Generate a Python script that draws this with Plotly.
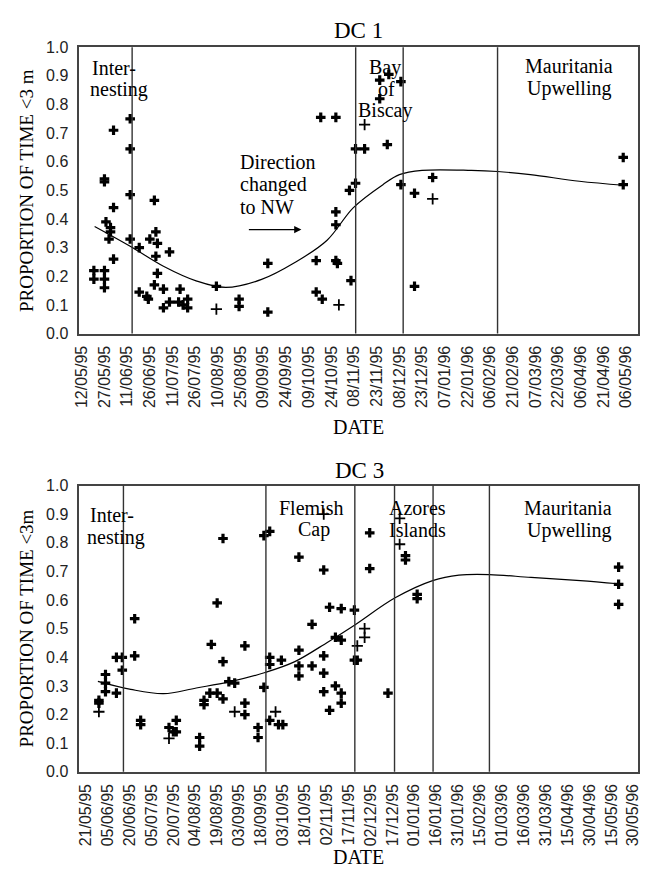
import pandas as pd
import plotly.graph_objects as go

W, H = 648, 875

# ---------------- DATA ----------------
# DC 1: days since 12/05/95
dc1_start = "1995-05-12"
dc1_ticklabels = ["12/05/95", "27/05/95", "11/06/95", "26/06/95", "11/07/95", "26/07/95",
                  "10/08/95", "25/08/95", "09/09/95", "24/09/95", "09/10/95", "24/10/95",
                  "08/11/95", "23/11/95", "08/12/95", "23/12/95", "07/01/96", "22/01/96",
                  "06/02/96", "21/02/96", "07/03/96", "22/03/96", "06/04/96", "21/04/96",
                  "06/05/96"]
dc1_bold_day = [8, 8, 15, 15, 15, 15, 15, 16, 19, 19, 18, 21, 21, 21, 32, 32, 32, 32,
                38, 38, 43, 44, 45, 48, 49, 50, 49, 50, 48, 54, 54, 58, 58, 65, 64, 70, 70, 67,
                89, 104, 104, 123, 123, 158, 168, 155, 155, 159, 168, 169, 168, 168,
                178, 177, 181, 181, 187, 197, 197, 203, 211, 202, 211, 220, 220, 232, 358, 358]
dc1_bold_val = [0.22, 0.19, 0.22, 0.19, 0.16, 0.54, 0.53, 0.39, 0.37, 0.355, 0.33, 0.44, 0.26, 0.71,
                0.75, 0.645, 0.485, 0.33, 0.30, 0.145, 0.13, 0.12, 0.33, 0.465, 0.355, 0.315, 0.27,
                0.21, 0.17, 0.155, 0.09, 0.285, 0.11, 0.155, 0.11, 0.12, 0.09, 0.10,
                0.165, 0.12, 0.095, 0.245, 0.075, 0.755, 0.755, 0.255, 0.145, 0.12, 0.255, 0.245,
                0.425, 0.38, 0.185, 0.50, 0.525, 0.645, 0.645, 0.82, 0.885, 0.905, 0.88, 0.66,
                0.52, 0.49, 0.165, 0.545, 0.615, 0.52]
dc1_thin_day = [89, 170, 187, 232]
dc1_thin_val = [0.085, 0.10, 0.73, 0.47]
dc1_curve_day = [8.5, 32.3, 54, 75.6, 95.2, 118.9, 140.6, 162.2, 179.6, 199.1, 210, 225,
                 257.6, 274.9, 296.6, 329, 358.3]
dc1_curve_val = [0.374, 0.304, 0.235, 0.184, 0.161, 0.189, 0.247, 0.326, 0.44, 0.52, 0.555,
                 0.57, 0.57, 0.566, 0.555, 0.532, 0.518]
dc1_bounds_day = [33.3, 181.1, 212.5, 274.9]

# DC 3: days since 21/05/95
dc3_start = "1995-05-21"
dc3_ticklabels = ["21/05/95", "05/06/95", "20/06/95", "05/07/95", "20/07/95", "04/08/95",
                  "19/08/95", "03/09/95", "18/09/95", "03/10/95", "18/10/95", "02/11/95",
                  "17/11/95", "02/12/95", "17/12/95", "01/01/96", "16/01/96", "31/01/96",
                  "15/02/96", "01/03/96", "16/03/96", "31/03/96", "15/04/96", "30/04/96",
                  "15/05/96", "30/05/96"]
dc3_bold_day = [9, 9, 13.5, 13.5, 13.5, 21, 25, 25, 21, 33.5, 33.5, 37.6, 37.6, 57, 60, 62, 62,
                78, 78, 81, 81, 86, 85, 90, 90, 94, 94, 94, 98, 102, 109, 109, 109, 118, 118,
                122, 126, 122, 126, 126, 126, 132, 135, 134, 146, 146, 146, 146, 155, 155,
                163, 163, 163, 163, 167, 167, 171, 171, 175, 175, 175, 175, 184, 184, 186,
                194.5, 194.5, 207, 219, 219, 227, 227, 365, 365, 365]
dc3_bold_val = [0.25, 0.24, 0.34, 0.31, 0.28, 0.40, 0.40, 0.355, 0.275, 0.535, 0.405, 0.18, 0.165,
                0.155, 0.14, 0.18, 0.14, 0.12, 0.09, 0.25, 0.235, 0.445, 0.275, 0.59, 0.275,
                0.815, 0.385, 0.255, 0.315, 0.31, 0.44, 0.24, 0.20, 0.155, 0.12,
                0.825, 0.84, 0.295, 0.40, 0.375, 0.18, 0.165, 0.165, 0.39, 0.75, 0.425, 0.37,
                0.335, 0.515, 0.37, 0.705, 0.405, 0.345, 0.28, 0.575, 0.215, 0.30, 0.47, 0.57,
                0.46, 0.275, 0.24, 0.565, 0.39, 0.39, 0.835, 0.71, 0.275, 0.755, 0.74, 0.62,
                0.605, 0.715, 0.655, 0.585]
dc3_thin_day = [9, 57, 102, 130, 163, 186, 191, 191, 215, 215]
dc3_thin_val = [0.21, 0.117, 0.21, 0.21, 0.90, 0.44, 0.50, 0.47, 0.885, 0.795]
dc3_curve_day = [8.3, 30.8, 53.3, 75.7, 98.3, 123.4, 143.2, 165.7, 184.3, 211.6, 237.6,
                 255.6, 276.5, 305, 338.8, 364.7]
dc3_curve_val = [0.316, 0.288, 0.273, 0.293, 0.314, 0.348, 0.385, 0.453, 0.513, 0.607, 0.668,
                 0.687, 0.689, 0.679, 0.668, 0.657]
dc3_bounds_day = [25.8, 123.4, 184.3, 211.5, 237.9, 276.5]

y_ticks = [0.0, 0.1, 0.2, 0.3, 0.4, 0.5, 0.6, 0.7, 0.8, 0.9, 1.0]


def to_dates(start, days):
    return pd.Timestamp(start) + pd.to_timedelta(pd.Series(days, dtype=float), unit="D")


def px(x):
    return x / W


def py(y):
    return 1 - y / H


SERIF = "Liberation Serif"
SANS = "Liberation Sans"

fig = go.Figure()

panels = [
    dict(start=dc1_start, labels=dc1_ticklabels, bd=dc1_bold_day, bv=dc1_bold_val,
         td=dc1_thin_day, tv=dc1_thin_val, cd=dc1_curve_day, cv=dc1_curve_val,
         bounds=dc1_bounds_day, xa="x", ya="y", rng=(-1.6, 367.5)),
    dict(start=dc3_start, labels=dc3_ticklabels, bd=dc3_bold_day, bv=dc3_bold_val,
         td=dc3_thin_day, tv=dc3_thin_val, cd=dc3_curve_day, cv=dc3_curve_val,
         bounds=dc3_bounds_day, xa="x2", ya="y2", rng=(-4.4, 378)),
]

shapes = []
for p in panels:
    fig.add_trace(go.Scatter(x=to_dates(p["start"], p["cd"]), y=p["cv"], mode="lines",
                             line=dict(color="black", width=1.2, shape="spline", smoothing=1.0),
                             xaxis=p["xa"], yaxis=p["ya"], showlegend=False, hoverinfo="skip"))
    fig.add_trace(go.Scatter(x=to_dates(p["start"], p["bd"]), y=p["bv"], mode="markers",
                             marker=dict(symbol="cross", size=8, color="black",
                                         line=dict(width=0)),
                             xaxis=p["xa"], yaxis=p["ya"], showlegend=False))
    fig.add_trace(go.Scatter(x=to_dates(p["start"], p["td"]), y=p["tv"], mode="markers",
                             marker=dict(symbol="cross-thin", size=8, color="black",
                                         line=dict(width=1.8, color="black")),
                             xaxis=p["xa"], yaxis=p["ya"], showlegend=False))
    for d in to_dates(p["start"], p["bounds"]):
        shapes.append(dict(type="line", xref=p["xa"], yref=p["ya"] + " domain",
                           x0=d, x1=d, y0=0, y1=1,
                           line=dict(color="#333333", width=1.4), layer="above"))

tickdates1 = pd.to_datetime(dc1_ticklabels, format="%d/%m/%y")
tickdates3 = pd.to_datetime(dc3_ticklabels, format="%d/%m/%y")

axis_common = dict(showgrid=False, zeroline=False, showline=True, mirror=True,
                   linecolor="#444444", linewidth=1.6, ticks="",
                   tickfont=dict(family=SANS, size=16, color="#222222"))

x0 = 74.5
x1 = 641.5


def xrange(start, r):
    s = pd.Timestamp(start)
    return [s + pd.Timedelta(days=r[0]), s + pd.Timedelta(days=r[1])]


fig.update_layout(
    width=W, height=H, margin=dict(l=0, r=0, t=0, b=0),
    paper_bgcolor="white", plot_bgcolor="white",
    xaxis=dict(domain=[px(x0), px(x1)], anchor="y", type="date",
               range=xrange(dc1_start, panels[0]["rng"]),
               tickvals=tickdates1, ticktext=dc1_ticklabels, tickangle=-90,
               ticklabelstandoff=4, **axis_common),
    yaxis=dict(domain=[py(332), py(40)], anchor="x", range=[0, 1],
               tickvals=y_ticks, tickformat=".1f", ticklabelstandoff=6, **axis_common),
    xaxis2=dict(domain=[px(x0), px(x1)], anchor="y2", type="date",
                range=xrange(dc3_start, panels[1]["rng"]),
                tickvals=tickdates3, ticktext=dc3_ticklabels, tickangle=-90,
                ticklabelstandoff=4, **axis_common),
    yaxis2=dict(domain=[py(779), py(487)], anchor="x2", range=[0, 1],
                tickvals=y_ticks, tickformat=".1f", ticklabelstandoff=6, **axis_common),
    shapes=shapes,
)

ann = []


def txt(text, xp, yp, size=20, angle=0, xanchor="center"):
    ann.append(dict(text=text, x=px(xp), y=py(yp), xref="paper", yref="paper",
                    showarrow=False, xanchor=xanchor, yanchor="middle", textangle=angle,
                    font=dict(family=SERIF, size=size, color="black")))


# titles, axis titles
txt("DC 1", 358, 23, size=23)
txt("DC 3", 359, 472, size=23)
txt("DATE", 358, 427, size=20)
txt("DATE", 358, 866, size=20)
txt("PROPORTION OF TIME &lt;3 m", 21, 186, size=19, angle=-90)
txt("PROPORTION OF TIME &lt;3m", 21, 633, size=19, angle=-90)

# DC 1 region labels
txt("Inter-", 110, 61.5)
txt("nesting", 114.7, 83.5)
txt("Direction", 236, 156.7, xanchor="left")
txt("changed", 236, 180, xanchor="left")
txt("to NW", 236, 203.4, xanchor="left")
txt("Bay", 385, 60.5)
txt("of", 386.7, 82.5)
txt("Biscay", 385, 105)
txt("Mauritania", 571.7, 59.4)
txt("Upwelling", 571.7, 81.7)

# DC 3 region labels
txt("Inter-", 108, 517.5)
txt("nesting", 111.3, 539.5)
txt("Flemish", 310, 509.4)
txt("Cap", 312.5, 531.7)
txt("Azores", 418.3, 509.4)
txt("Islands", 418.3, 532.7)
txt("Mauritania", 571, 509.4)
txt("Upwelling", 571.7, 532.7)

# arrow
ann.append(dict(x=px(300), y=py(226), ax=-54, ay=0, xref="paper", yref="paper",
                axref="pixel", ayref="pixel", text="", showarrow=True, arrowhead=2,
                arrowsize=1.2, arrowwidth=1.2, arrowcolor="black"))

fig.update_layout(annotations=ann)
fig.write_html("out.html")
